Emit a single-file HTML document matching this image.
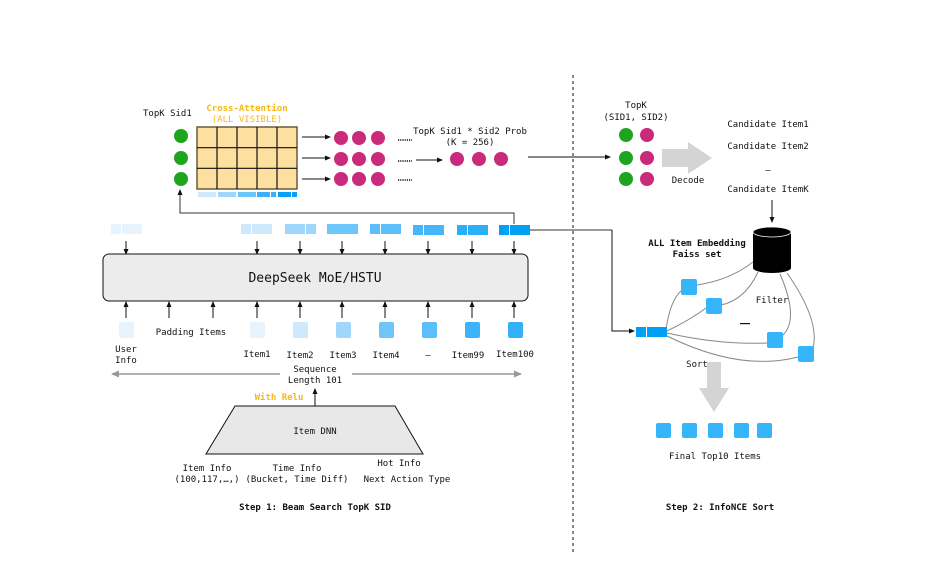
<!DOCTYPE html>
<html><head><meta charset="utf-8"><style>
html,body{margin:0;padding:0;background:#fff;}
svg text{font-family:"DejaVu Sans Mono","Liberation Mono",monospace;font-size:9px;fill:#111;}
.b{font-weight:bold;}
.o{fill:#f5b914;font-weight:bold;}
</style></head><body>
<svg width="949" height="579" viewBox="0 0 949 579" xmlns="http://www.w3.org/2000/svg">
<defs>
<marker id="a" markerWidth="6" markerHeight="6" refX="5" refY="3" orient="auto" markerUnits="userSpaceOnUse"><path d="M0,0.5 L6,3 L0,5.5 z" fill="#111"/></marker>
<marker id="g" markerWidth="8" markerHeight="8" refX="7" refY="4" orient="auto" markerUnits="userSpaceOnUse"><path d="M0,0.5 L8,4 L0,7.5 z" fill="#999"/></marker>
</defs>
<text x="143" y="116">TopK Sid1</text>
<text x="247" y="111" text-anchor="middle" class="o">Cross-Attention</text>
<text x="247" y="122" text-anchor="middle" class="o" style="font-weight:normal">(ALL VISIBLE)</text>
<g fill="#1ea51e"><circle cx="181" cy="136" r="7"/><circle cx="181" cy="158" r="7"/><circle cx="181" cy="179" r="7"/></g>
<rect x="197" y="127" width="100" height="62" fill="#fde09f" stroke="#6a5a3a" stroke-width="1.5"/>
<g stroke="#111" stroke-width="1.2">
<line x1="217" y1="127" x2="217" y2="189"/><line x1="237" y1="127" x2="237" y2="189"/><line x1="257" y1="127" x2="257" y2="189"/><line x1="277" y1="127" x2="277" y2="189"/>
<line x1="197" y1="147.7" x2="297" y2="147.7"/><line x1="197" y1="168.3" x2="297" y2="168.3"/></g>
<rect x="198" y="192" width="18" height="5" fill="#cde9fb"/><rect x="218" y="192" width="18" height="5" fill="#9fd6fb"/><rect x="238" y="192" width="18" height="5" fill="#6cc6fa"/><rect x="257" y="192" width="13" height="5" fill="#3cb1f9"/><rect x="271" y="192" width="5" height="5" fill="#3cb1f9"/><rect x="278" y="192" width="13" height="5" fill="#0aa0f5"/><rect x="292" y="192" width="5" height="5" fill="#0aa0f5"/>
<g stroke="#111" stroke-width="1" marker-end="url(#a)"><line x1="302" y1="137" x2="330" y2="137"/><line x1="302" y1="158" x2="330" y2="158"/><line x1="302" y1="179" x2="330" y2="179"/><line x1="416" y1="160" x2="442" y2="160"/></g>
<g fill="#c92a7a"><circle cx="341" cy="138" r="7"/><circle cx="359" cy="138" r="7"/><circle cx="378" cy="138" r="7"/><circle cx="341" cy="159" r="7"/><circle cx="359" cy="159" r="7"/><circle cx="378" cy="159" r="7"/><circle cx="341" cy="179" r="7"/><circle cx="359" cy="179" r="7"/><circle cx="378" cy="179" r="7"/>
<circle cx="457" cy="159" r="7"/><circle cx="479" cy="159" r="7"/><circle cx="501" cy="159" r="7"/></g>
<g stroke="#111" stroke-width="1.6" stroke-dasharray="1.2,1"><line x1="398" y1="140" x2="412" y2="140"/><line x1="398" y1="161" x2="412" y2="161"/><line x1="398" y1="180" x2="412" y2="180"/></g>
<text x="470" y="134" text-anchor="middle">TopK Sid1 * Sid2 Prob</text>
<text x="470" y="145" text-anchor="middle">(K = 256)</text>
<line x1="528" y1="157" x2="610" y2="157" stroke="#111" marker-end="url(#a)"/>
<polyline points="514,224 514,213 180,213 180,190" fill="none" stroke="#333" stroke-width="1" marker-end="url(#a)"/>
<g>
<rect x="111" y="224" width="31" height="10" fill="#e8f4fd"/>
<rect x="241" y="224" width="31" height="10" fill="#cde9fb"/>
<rect x="285" y="224" width="31" height="10" fill="#9fd6fb"/>
<rect x="327" y="224" width="31" height="10" fill="#6cc6fa"/>
<rect x="370" y="224" width="31" height="10" fill="#5cbffb"/>
<rect x="413" y="225" width="31" height="10" fill="#44b6fa"/>
<rect x="457" y="225" width="31" height="10" fill="#2ab0f8"/>
<rect x="499" y="225" width="31" height="10" fill="#00a0f3"/>
</g>
<g fill="#fff"><rect x="121" y="224" width="1" height="11"/><rect x="251" y="224" width="1" height="11"/><rect x="305" y="224" width="1" height="11"/><rect x="380" y="224" width="1" height="11"/><rect x="423" y="224" width="1" height="11"/><rect x="467" y="224" width="1" height="11"/><rect x="509" y="224" width="1" height="11"/></g>
<line x1="530" y1="230" x2="612" y2="230" stroke="#333"/>
<g stroke="#111" stroke-width="1" marker-end="url(#a)">
<line x1="126" y1="241" x2="126" y2="254"/><line x1="257" y1="241" x2="257" y2="254"/><line x1="300" y1="241" x2="300" y2="254"/><line x1="342" y1="241" x2="342" y2="254"/><line x1="385" y1="241" x2="385" y2="254"/><line x1="428" y1="241" x2="428" y2="254"/><line x1="472" y1="241" x2="472" y2="254"/><line x1="514" y1="241" x2="514" y2="254"/></g>
<rect x="103" y="254" width="425" height="47" rx="6" fill="#ececec" stroke="#111" stroke-width="1"/>
<text x="315" y="282" text-anchor="middle" style="font-size:13px">DeepSeek MoE/HSTU</text>
<g stroke="#111" stroke-width="1" marker-end="url(#a)">
<line x1="126" y1="318" x2="126" y2="302"/><line x1="169" y1="318" x2="169" y2="302"/><line x1="213" y1="318" x2="213" y2="302"/><line x1="257" y1="318" x2="257" y2="302"/><line x1="300" y1="318" x2="300" y2="302"/><line x1="342" y1="318" x2="342" y2="302"/><line x1="385" y1="318" x2="385" y2="302"/><line x1="428" y1="318" x2="428" y2="302"/><line x1="472" y1="318" x2="472" y2="302"/><line x1="514" y1="318" x2="514" y2="302"/></g>
<g>
<rect x="119" y="322" width="15" height="16" rx="2" fill="#e8f4fd"/>
<rect x="250" y="322" width="15" height="16" rx="2" fill="#e8f4fd"/>
<rect x="293" y="322" width="15" height="16" rx="2" fill="#cde9fb"/>
<rect x="336" y="322" width="15" height="16" rx="2" fill="#9fd6fb"/>
<rect x="379" y="322" width="15" height="16" rx="2" fill="#6cc6fa"/>
<rect x="422" y="322" width="15" height="16" rx="2" fill="#5cbffb"/>
<rect x="465" y="322" width="15" height="16" rx="2" fill="#3cb3fa"/>
<rect x="508" y="322" width="15" height="16" rx="2" fill="#33b0fa"/>
</g>
<text x="191" y="335" text-anchor="middle">Padding Items</text>
<text x="126" y="352" text-anchor="middle">User</text><text x="126" y="363" text-anchor="middle">Info</text>
<text x="257" y="357" text-anchor="middle">Item1</text><text x="300" y="358" text-anchor="middle">Item2</text><text x="343" y="358" text-anchor="middle">Item3</text><text x="386" y="358" text-anchor="middle">Item4</text><text x="428" y="358" text-anchor="middle">—</text><text x="468" y="358" text-anchor="middle">Item99</text><text x="515" y="357" text-anchor="middle">Item100</text>
<line x1="280" y1="374" x2="112" y2="374" stroke="#999" stroke-width="1.5" marker-end="url(#g)"/>
<line x1="352" y1="374" x2="521" y2="374" stroke="#999" stroke-width="1.5" marker-end="url(#g)"/>
<text x="315" y="372" text-anchor="middle">Sequence</text><text x="315" y="383" text-anchor="middle">Length 101</text>
<text x="279" y="400" text-anchor="middle" class="o">With Relu</text>
<line x1="315" y1="406" x2="315" y2="389" stroke="#111" marker-end="url(#a)"/>
<polygon points="235,406 395,406 423,454 206,454" fill="#e8e8e8" stroke="#111" stroke-width="1"/>
<text x="315" y="434" text-anchor="middle">Item DNN</text>
<text x="207" y="471" text-anchor="middle">Item Info</text><text x="207" y="482" text-anchor="middle">(100,117,…,)</text>
<text x="297" y="471" text-anchor="middle">Time Info</text><text x="297" y="482" text-anchor="middle">(Bucket, Time Diff)</text>
<text x="399" y="466" text-anchor="middle">Hot Info</text><text x="407" y="482" text-anchor="middle">Next Action Type</text>
<text x="315" y="510" text-anchor="middle" class="b">Step 1: Beam Search TopK SID</text>
<line x1="573" y1="75" x2="573" y2="552" stroke="#111" stroke-dasharray="3,3"/>
<text x="636" y="108" text-anchor="middle">TopK</text><text x="636" y="120" text-anchor="middle">(SID1, SID2)</text>
<g fill="#1ea51e"><circle cx="626" cy="135" r="7"/><circle cx="626" cy="158" r="7"/><circle cx="626" cy="179" r="7"/></g>
<g fill="#c92a7a"><circle cx="647" cy="135" r="7"/><circle cx="647" cy="158" r="7"/><circle cx="647" cy="179" r="7"/></g>
<polygon points="662,149 688,149 688,142 712,158 688,174 688,167 662,167" fill="#d4d4d4"/>
<text x="688" y="183" text-anchor="middle">Decode</text>
<text x="768" y="127" text-anchor="middle">Candidate Item1</text>
<text x="768" y="149" text-anchor="middle">Candidate Item2</text>
<text x="768" y="173" text-anchor="middle">–</text>
<text x="768" y="192" text-anchor="middle">Candidate ItemK</text>
<line x1="772" y1="200" x2="772" y2="222" stroke="#111" marker-end="url(#a)"/>
<path d="M753,232 L753,268 A19,5 0 0 0 791,268 L791,232 Z" fill="#000"/>
<ellipse cx="772" cy="232" rx="19" ry="5" fill="#000" stroke="#fff" stroke-width="0.8"/>
<text x="697" y="246" text-anchor="middle" class="b">ALL Item Embedding</text><text x="697" y="257" text-anchor="middle" class="b">Faiss set</text>
<polyline points="612,230 612,331 634,331" fill="none" stroke="#111" marker-end="url(#a)"/>
<g fill="none" stroke="#888" stroke-width="1">
<path d="M666,330 Q670,300 682,290"/>
<path d="M697,285 Q730,280 753,262"/>
<path d="M667,331 Q690,320 706,308"/>
<path d="M721,305 Q745,300 758,272"/>
<path d="M667,333 Q720,345 767,343"/>
<path d="M782,336 Q800,320 780,274"/>
<path d="M667,336 Q740,372 798,357"/>
<path d="M813,348 Q820,320 787,273"/>
</g>
<g fill="#36b5fb">
<rect x="681" y="279" width="16" height="16" rx="2"/><rect x="706" y="298" width="16" height="16" rx="2"/><rect x="767" y="332" width="16" height="16" rx="2"/><rect x="798" y="346" width="16" height="16" rx="2"/>
</g>
<rect x="636" y="327" width="31" height="10" fill="#00a0f3"/><rect x="646" y="327" width="1" height="10" fill="#fff"/>
<text x="772" y="303" text-anchor="middle">Filter</text>
<rect x="740" y="323" width="10" height="1.2" fill="#111"/>
<text x="697" y="367" text-anchor="middle">Sort</text>
<polygon points="707,362 721,362 721,388 729,388 714,412 699,388 707,388" fill="#d4d4d4"/>
<g fill="#36b5fb">
<rect x="656" y="423" width="15" height="15" rx="2"/><rect x="682" y="423" width="15" height="15" rx="2"/><rect x="708" y="423" width="15" height="15" rx="2"/><rect x="734" y="423" width="15" height="15" rx="2"/><rect x="757" y="423" width="15" height="15" rx="2"/></g>
<text x="715" y="459" text-anchor="middle">Final Top10 Items</text>
<text x="720" y="510" text-anchor="middle" class="b">Step 2: InfoNCE Sort</text>
</svg>
</body></html>
